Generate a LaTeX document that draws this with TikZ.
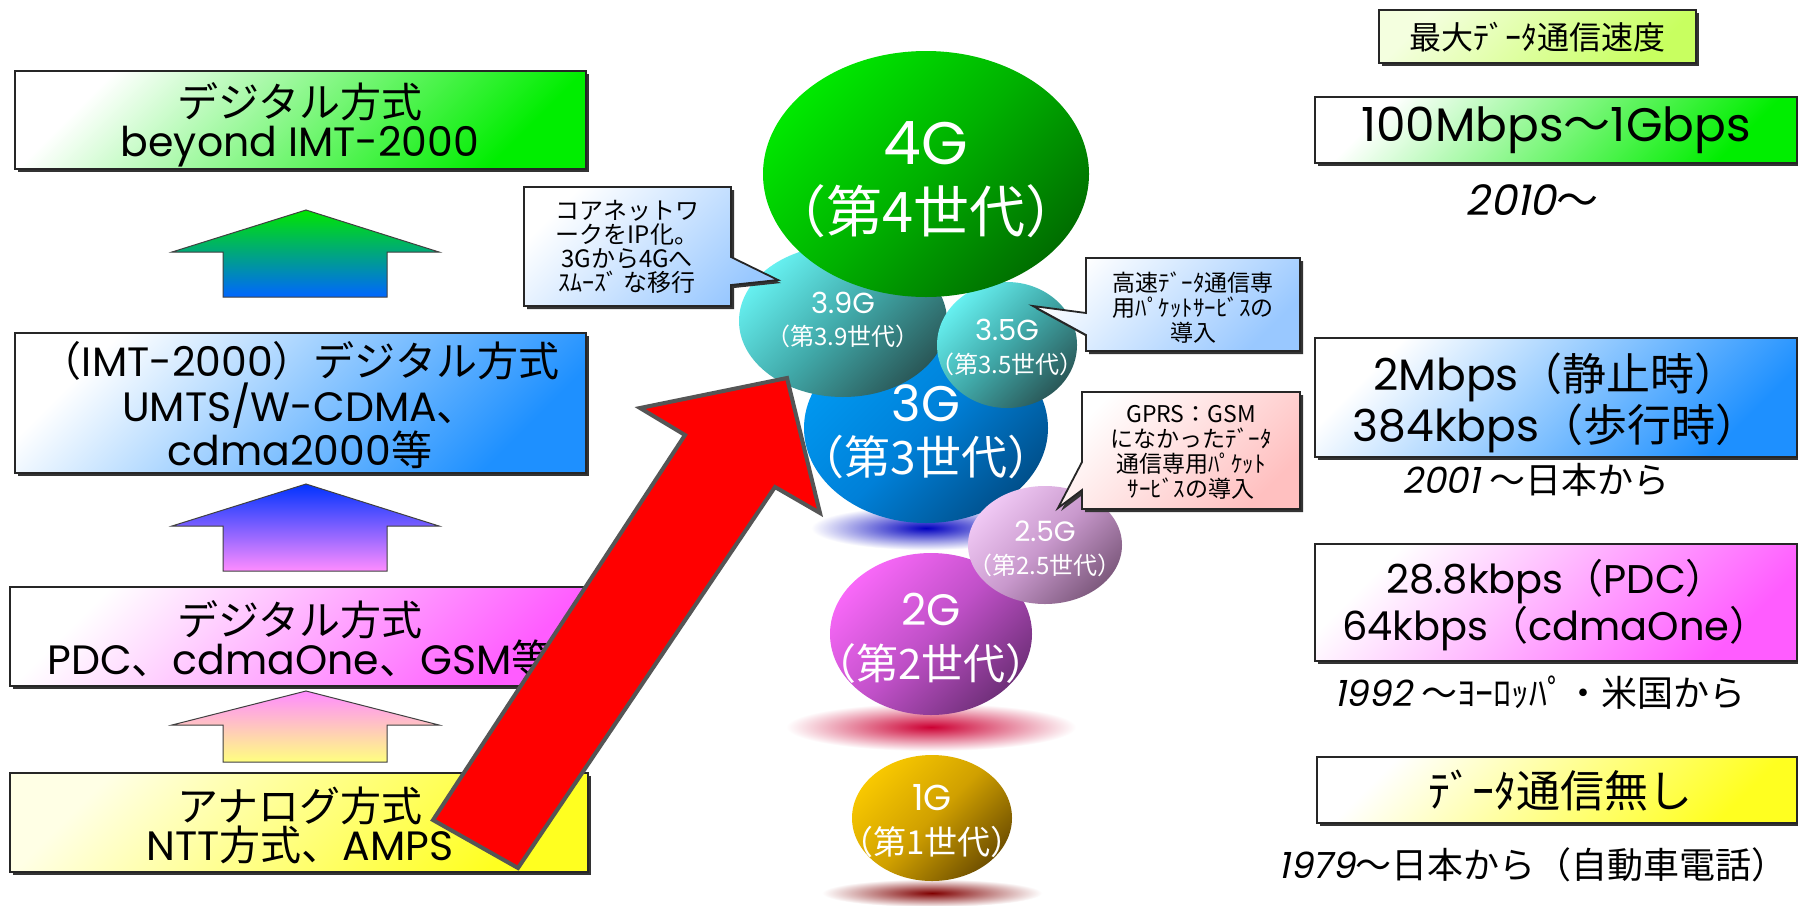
\documentclass[tikz,border=0pt]{standalone}
\usepackage{fontspec}
\setmainfont{Poppins}
\newfontfamily\jp{Noto Sans CJK JP}
\newfontfamily\itnum[FakeSlant=0.2]{Poppins}
\newcommand\J[1]{{\jp #1}}
\newcommand\fs[2]{\fontsize{#1}{#2}\selectfont}
\definecolor{cG}{HTML}{00EE00}
\definecolor{cB}{HTML}{1E90FF}
\definecolor{cP}{HTML}{FF5CFF}
\definecolor{cY}{HTML}{FFFF20}
\definecolor{cT}{HTML}{C8FF60}
\definecolor{cC}{HTML}{99C8FF}
\definecolor{cR}{HTML}{FFC0C0}
\definecolor{gA}{HTML}{00E800}\definecolor{gB}{HTML}{00B000}\definecolor{gC}{HTML}{006E00}
\definecolor{tA}{HTML}{66F0F0}\definecolor{tB}{HTML}{40A8A8}\definecolor{tC}{HTML}{2A5858}
\definecolor{bA}{HTML}{0098F0}\definecolor{bB}{HTML}{0080D8}\definecolor{bC}{HTML}{00508C}
\definecolor{lA}{HTML}{F0C8F4}\definecolor{lB}{HTML}{C898CC}\definecolor{lC}{HTML}{7E5A7E}
\definecolor{mA}{HTML}{F868F8}\definecolor{mB}{HTML}{C050C8}\definecolor{mC}{HTML}{70307A}
\definecolor{yA}{HTML}{F8C800}\definecolor{yB}{HTML}{D0A000}\definecolor{yC}{HTML}{705000}
\definecolor{arrowedge}{HTML}{555555}
\begin{document}
\begin{tikzpicture}[x=0.5pt,y=-0.5pt,
  bx/.style={draw=black!85, line width=0.9pt},
  shd/.style={fill=black!80},
  blk/.style={draw=black!75, line width=0.5pt},
  txt/.style={inner sep=0, align=center, text=black},
  wtxt/.style={inner sep=0, align=center, text=white},
  diag/.style 2 args={top color=#1, bottom color=#2, shading angle=45},
  sph/.style n args={3}{top color=#1, bottom color=#3, middle color=#2, shading angle=45},
]
\useasboundingbox (0,0) rectangle (1798,905);
\fill[white] (0,0) rectangle (1798,905);

% ---------- left column boxes ----------
\fill[shd] (18,74) rectangle (589,172);
\path[bx, diag={white}{cG}] (15,71) rectangle (586,169);
\node[txt, font=\fs{20.5}{19.5}] (l1) at (300,125) {\J{デジタル方式}\\beyond IMT-2000};

\fill[shd] (18,336) rectangle (589,476);
\path[bx, diag={white}{cB}] (15,333) rectangle (586,473);
\node[txt, font=\fs{20.5}{20.5}] (l2) at (300,405) {\J{（}IMT-2000\J{）デジタル方式}\\UMTS/W-CDMA\J{、}\\cdma2000\J{等}};

\fill[shd] (13,590) rectangle (591,689);
\path[bx, diag={white}{cP}] (10,587) rectangle (588,686);
\node[txt, font=\fs{20.5}{19.5}] (l3) at (300,639) {\J{デジタル方式}\\PDC\J{、}cdmaOne\J{、}GSM\J{等}};

\fill[shd] (13,776) rectangle (591,875);
\path[bx, diag={white!90!yellow}{cY}] (10,773) rectangle (588,872);
\node[txt, font=\fs{20.5}{19.5}] (l4) at (300,825) {\J{アナログ方式}\\NTT\J{方式、}AMPS};

% ---------- block arrows ----------
\path[blk, top color=green!90!black, middle color=cyan!70!blue!80!green, bottom color=blue!60!cyan]
  (306,210) -- (439,252) -- (387,252) -- (387,297) -- (223,297) -- (223,252) -- (172,252) -- cycle;
\path[blk, top color=blue!80!cyan, middle color=violet!50!magenta!60, bottom color=magenta!45]
  (306,484) -- (439,526) -- (387,526) -- (387,571) -- (223,571) -- (223,526) -- (172,526) -- cycle;
\path[blk, top color=magenta!45, middle color=pink!70, bottom color=yellow!50]
  (306,691) -- (439,725) -- (387,725) -- (387,762) -- (223,762) -- (223,725) -- (172,725) -- cycle;

% ---------- sphere shadows ----------
\shade[inner color=blue!75!black, outer color=white] (926,528) ellipse (115 and 22);
\shade[inner color=purple!80!red, outer color=white] (931,727) ellipse (145 and 24);
\shade[inner color=red!50!black, outer color=white] (932,893) ellipse (110 and 14);

% ---------- spheres ----------
\path[sph={bA}{bB}{bC}] (926,428) ellipse (122 and 95);
\path[sph={mA}{mB}{mC}] (931,634) ellipse (101 and 81);
\path[sph={lA}{lB}{lC}] (1045,545) ellipse (77 and 59);
\path[sph={tA}{tB}{tC}] (843,321) ellipse (104 and 76);
\path[sph={tA}{tB}{tC}] (1007,345) ellipse (70 and 63);
\path[sph={gA}{gB}{gC}] (926,174) ellipse (163 and 123);
\path[sph={yA}{yB}{yC}] (932,818) ellipse (80 and 63);

\node[wtxt, font=\fs{30}{30}] (s4a) at (926,143) {4G};
\node[wtxt, font=\fs{28}{28}\jp] (s4b) at (926,211) {（第4世代）};
\node[wtxt, font=\fs{14.5}{14.5}] (s39a) at (843,303) {3.9G};
\node[wtxt, font=\fs{12}{12}\jp] (s39b) at (843,336) {（第3.9世代）};
\node[wtxt, font=\fs{14.5}{14.5}] (s35a) at (1007,330) {3.5G};
\node[wtxt, font=\fs{12}{12}\jp] (s35b) at (1007,364) {（第3.5世代）};
\node[wtxt, font=\fs{25}{25}] (s3a) at (926,403) {3G};
\node[wtxt, font=\fs{23}{23}\jp] (s3b) at (926,457) {（第3世代）};
\node[wtxt, font=\fs{14}{14}] (s25a) at (1045,531) {2.5G};
\node[wtxt, font=\fs{12}{12}\jp] (s25b) at (1045,565) {（第2.5世代）};
\node[wtxt, font=\fs{22}{22}] (s2a) at (931,609) {2G};
\node[wtxt, font=\fs{21}{21}\jp] (s2b) at (931,664) {（第2世代）};
\node[wtxt, font=\fs{18}{18}] (s1a) at (932,798) {1G};
\node[wtxt, font=\fs{16.5}{16.5}\jp] (s1b) at (932,842) {（第1世代）};

% ---------- callouts ----------
\fill[shd] (527,190) -- (734,190) -- (734,260) -- (781,283) -- (734,288) -- (734,309) -- (527,309) -- cycle;
\path[bx, diag={white}{cC}] (524,187) -- (731,187) -- (731,257) -- (778,280) -- (731,285) -- (731,306) -- (524,306) -- cycle;
\node[txt, font=\fs{12}{11.9}\jp] (c1) at (627,247) {コアネットワ\\ークをIP化。\\3Gから4Gへ\\ｽﾑｰｽﾞ な移行};

\fill[shd] (1089,261) -- (1303,261) -- (1303,354) -- (1089,354) -- (1089,338) -- (1036,309) -- (1089,316) -- cycle;
\path[bx, diag={white}{cC}] (1086,258) -- (1300,258) -- (1300,351) -- (1086,351) -- (1086,335) -- (1033,306) -- (1086,313) -- cycle;
\node[txt, font=\fs{11.5}{12.5}\jp] (c2) at (1193,308) {高速ﾃﾞｰﾀ通信専\\用ﾊﾟｹｯﾄｻｰﾋﾞｽの\\導入};

\fill[shd] (1085,395) -- (1303,395) -- (1303,512) -- (1085,512) -- (1085,493) -- (1061,511) -- (1085,465) -- cycle;
\path[bx, diag={white}{cR}] (1082,392) -- (1300,392) -- (1300,509) -- (1082,509) -- (1082,490) -- (1058,508) -- (1082,462) -- cycle;
\node[txt, font=\fs{11.5}{12.5}\jp] (c3) at (1191,452) {GPRS：GSM\\になかったﾃﾞｰﾀ\\通信専用ﾊﾟｹｯﾄ\\ｻｰﾋﾞｽの導入};

% ---------- right column ----------
\fill[shd] (1382,13) rectangle (1699,66);
\path[bx, diag={white!80!cT}{cT}] (1379,10) rectangle (1696,63);
\node[txt, font=\fs{16}{16}\jp] (r0) at (1537,37) {最大ﾃﾞｰﾀ通信速度};

\fill[shd] (1318,100) rectangle (1800,166);
\path[bx, diag={white}{cG}] (1315,97) rectangle (1797,163);
\node[txt, font=\fs{23.5}{22}] (r1) at (1556,130) {100Mbps\J{～}1Gbps};
\node[txt, font=\fs{21}{17}] (y1) at (1532,200) {{\itnum 2010}\J{～}};

\fill[shd] (1318,341) rectangle (1800,460);
\path[bx, diag={white}{cB}] (1315,338) rectangle (1797,457);
\node[txt, font=\fs{22}{21}] (r2) at (1556,403) {2Mbps\J{（静止時）}\\384kbps\J{（歩行時）}};
\node[txt, font=\fs{18}{17}] (y2) at (1536,480) {{\itnum 2001} \J{～日本から}};

\fill[shd] (1318,547) rectangle (1800,664);
\path[bx, diag={white}{cP}] (1315,544) rectangle (1797,661);
\node[txt, font=\fs{20}{21}] (r3) at (1556,605) {28.8kbps\J{（}PDC\J{）}\\64kbps\J{（}cdmaOne\J{）}};
\node[txt, font=\fs{18}{17}] (y3) at (1540,693) {{\itnum 1992} \J{～ﾖｰﾛｯﾊﾟ・米国から}};

\fill[shd] (1320,760) rectangle (1800,826);
\path[bx, diag={white}{cY}] (1317,757) rectangle (1797,823);
\node[txt, font=\fs{22}{22}\jp] (r4) at (1560,791) {ﾃﾞｰﾀ通信無し};
\node[txt, font=\fs{18}{17}] (y4) at (1533,865) {{\itnum 1979}\J{～日本から（自動車電話）}};

% ---------- red arrow ----------
\path[fill=red, draw=arrowedge, line width=2pt, line join=miter]
  (433,820) -- (685,435) -- (640,408) -- (787,378) -- (820,513) -- (775,487) -- (518,868) -- cycle;
\end{tikzpicture}
\end{document}
